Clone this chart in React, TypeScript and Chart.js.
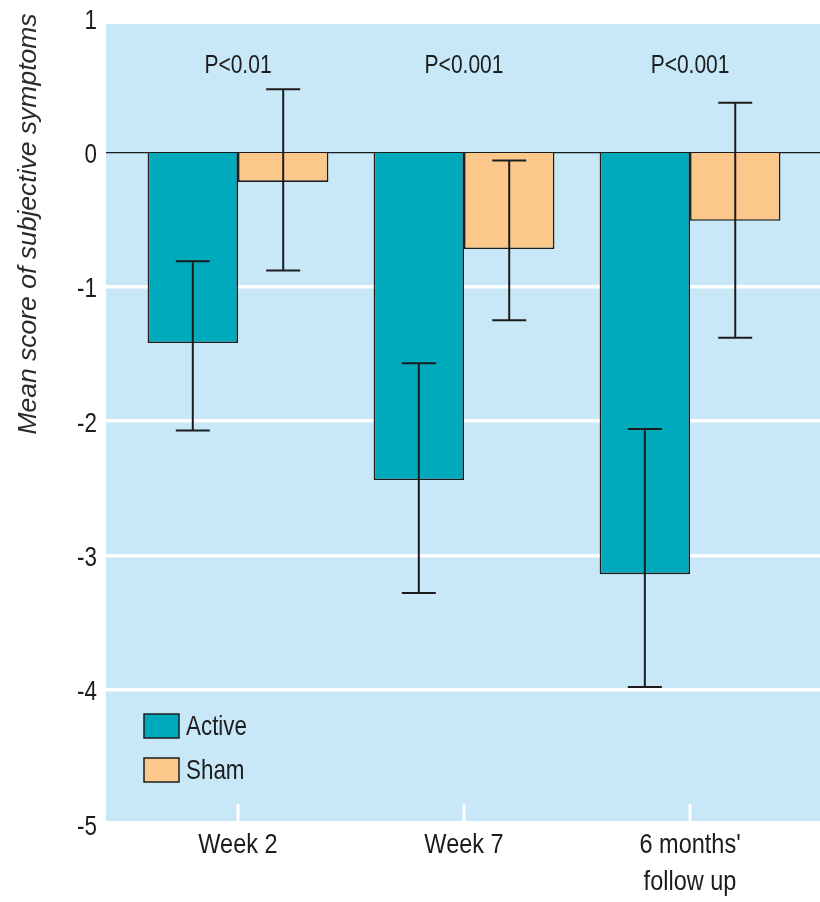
import React, { useEffect, useRef } from 'react';
import { Chart, registerables } from 'chart.js';

Chart.register(...registerables);

const categories: string[][] = [['Week 2'], ['Week 7'], ["6 months'", 'follow up']];
const seriesNames = ['Active', 'Sham'];
const activeMeans = [-1.42, -2.44, -3.14];
const activeLow = [-2.07, -3.28, -3.98];
const activeHigh = [-0.81, -1.57, -2.06];
const shamMeans = [-0.22, -0.72, -0.51];
const shamLow = [-0.88, -1.25, -1.38];
const shamHigh = [0.47, -0.06, 0.37];
const pLabels = ['P<0.01', 'P<0.001', 'P<0.001'];
const pLabelValue = 0.64;
const yTitle = 'Mean score of subjective symptoms';
const yMin = -5;
const yMax = 1;

const SANS = '"Liberation Sans", Arial, sans-serif';
const BG = '#c8e8f8';
const TEAL = '#00aabd';
const PEACH = '#fcc78a';
const INK = '#1c1c1c';

function condensedText(ctx: any, text: string, x: number, y: number, align: string, font: string, sx: number) {
  ctx.save();
  ctx.translate(x, y);
  ctx.scale(sx, 1);
  ctx.font = font;
  ctx.textAlign = align;
  ctx.textBaseline = 'middle';
  ctx.fillText(text, 0, 0);
  ctx.restore();
}

const decorPlugin = {
  id: 'decor',
  beforeDraw(chart: any) {
    const { ctx, chartArea } = chart;
    ctx.save();
    ctx.fillStyle = BG;
    ctx.fillRect(chartArea.left, chartArea.top + 6, chartArea.right - chartArea.left, chartArea.bottom - chartArea.top - 9);
    ctx.restore();
  },
  beforeDatasetsDraw(chart: any) {
    const { ctx, chartArea, scales } = chart;
    const xs = scales.x;
    ctx.save();
    ctx.strokeStyle = '#ffffff';
    ctx.lineWidth = 3;
    xs.ticks.forEach((t: any) => {
      const px = xs.getPixelForValue(t.value);
      ctx.beginPath();
      ctx.moveTo(px, chartArea.bottom - 20);
      ctx.lineTo(px, chartArea.bottom - 3);
      ctx.stroke();
    });
    ctx.restore();
  },
  afterDatasetsDraw(chart: any) {
    const { ctx, chartArea, scales } = chart;
    const ys = scales.y;
    const xs = scales.x;
    ctx.save();
    // error bars
    chart.data.datasets.forEach((ds: any, di: number) => {
      const meta = chart.getDatasetMeta(di);
      meta.data.forEach((el: any, i: number) => {
        const x = el.x;
        const yLo = ys.getPixelForValue(ds.errLow[i]);
        const yHi = ys.getPixelForValue(ds.errHigh[i]);
        ctx.strokeStyle = INK;
        ctx.lineWidth = 2;
        ctx.beginPath();
        ctx.moveTo(x, yLo);
        ctx.lineTo(x, yHi);
        ctx.moveTo(x - 17, yLo);
        ctx.lineTo(x + 17, yLo);
        ctx.moveTo(x - 17, yHi);
        ctx.lineTo(x + 17, yHi);
        ctx.stroke();
      });
    });
    ctx.fillStyle = INK;
    // P labels
    pLabels.forEach((t, i) => {
      condensedText(ctx, t, xs.getPixelForValue(i), ys.getPixelForValue(pLabelValue), 'center', `25px ${SANS}`, 0.84);
    });
    // y tick labels
    ys.ticks.forEach((t: any) => {
      condensedText(ctx, String(t.value), chartArea.left - 9, ys.getPixelForValue(t.value) + 3, 'right', `28px ${SANS}`, 0.8);
    });
    // x tick labels
    xs.ticks.forEach((t: any) => {
      const lines = categories[t.value];
      lines.forEach((line, li) => {
        condensedText(ctx, line, xs.getPixelForValue(t.value), chartArea.bottom + 21 + li * 37, 'center', `28px ${SANS}`, 0.84);
      });
    });
    // legend
    const colors = [TEAL, PEACH];
    const lx = chartArea.left + 38;
    const baseY = chartArea.bottom - 110;
    seriesNames.forEach((name, i) => {
      const by = baseY + i * 44;
      ctx.fillStyle = colors[i];
      ctx.fillRect(lx, by, 35, 24);
      ctx.strokeStyle = INK;
      ctx.lineWidth = 1.5;
      ctx.strokeRect(lx, by, 35, 24);
      ctx.fillStyle = INK;
      condensedText(ctx, name, lx + 42, by + 13, 'left', `28px ${SANS}`, 0.8);
    });
    // y title
    ctx.save();
    ctx.translate(29, 224);
    ctx.rotate(-Math.PI / 2);
    ctx.scale(1.06, 1);
    ctx.font = `italic 25px ${SANS}`;
    ctx.fillStyle = '#2a2a2a';
    ctx.textAlign = 'center';
    ctx.textBaseline = 'middle';
    ctx.fillText(yTitle, 0, 0);
    ctx.restore();
    ctx.restore();
  },
};

export default function App() {
  const canvasRef = useRef<HTMLCanvasElement | null>(null);

  useEffect(() => {
    const canvas = canvasRef.current;
    if (!canvas) return;
    const chart = new Chart(canvas, {
      type: 'bar',
      data: {
        datasets: [
          {
            label: seriesNames[0],
            data: activeMeans.map((y, i) => ({ x: i, y })),
            backgroundColor: TEAL,
            borderColor: INK,
            borderWidth: 1.6,
            errLow: activeLow,
            errHigh: activeHigh,
          } as any,
          {
            label: seriesNames[1],
            data: shamMeans.map((y, i) => ({ x: i, y })),
            backgroundColor: PEACH,
            borderColor: INK,
            borderWidth: 1.6,
            errLow: shamLow,
            errHigh: shamHigh,
          } as any,
        ],
      },
      options: {
        animation: false,
        responsive: false,
        maintainAspectRatio: false,
        devicePixelRatio: 1,
        layout: { padding: { top: 18, right: 0, left: 0, bottom: 0 } },
        datasets: { bar: { categoryPercentage: 0.8, barPercentage: 1.0 } },
        plugins: {
          legend: { display: false },
          tooltip: { enabled: false },
          title: { display: false },
        },
        scales: {
          x: {
            type: 'linear',
            min: -0.584,
            max: 2.575,
            offset: false,
            afterBuildTicks: (s: any) => {
              s.ticks = categories.map((_, i) => ({ value: i }));
            },
            afterFit: (s: any) => {
              s.height = 78;
            },
            ticks: { display: false },
            grid: { display: false },
            border: { display: false },
          },
          y: {
            min: yMin,
            max: yMax,
            afterFit: (s: any) => {
              s.width = 106;
            },
            ticks: { stepSize: 1, display: false },
            grid: {
              drawTicks: false,
              color: (c: any) =>
                c.tick.value === 0 ? INK : c.tick.value === yMax || c.tick.value === yMin ? 'rgba(0,0,0,0)' : '#ffffff',
              lineWidth: (c: any) => (c.tick.value === 0 ? 1.2 : 3.5),
            },
            border: { display: false },
          },
        },
      } as any,
      plugins: [decorPlugin],
    });
    return () => chart.destroy();
  }, []);

  return (
    <div style={{ position: 'absolute', left: 0, top: 0, width: 820, height: 902, background: '#ffffff' }}>
      <canvas ref={canvasRef} width={820} height={902} style={{ display: 'block', width: 820, height: 902 }} />
    </div>
  );
}
